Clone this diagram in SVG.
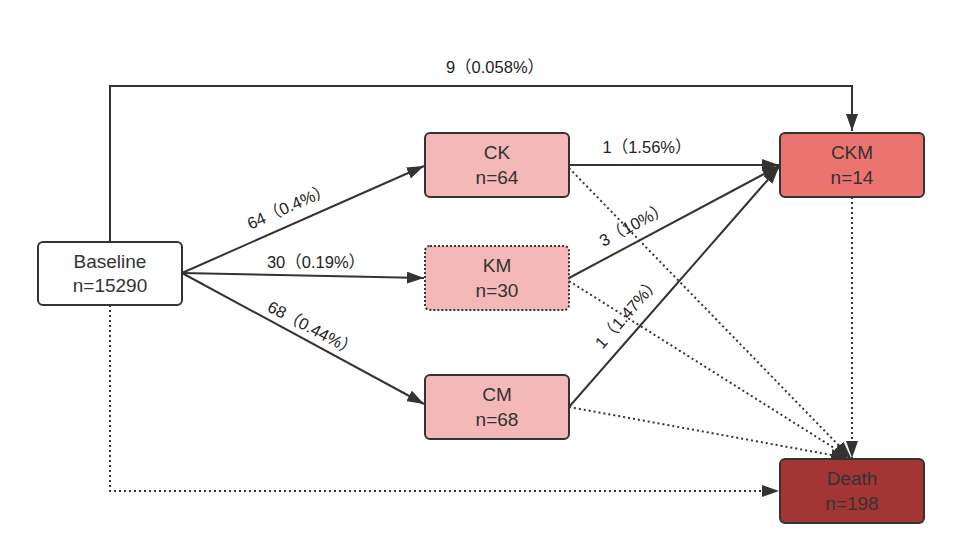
<svg xmlns="http://www.w3.org/2000/svg" width="961" height="560" viewBox="0 0 961 560">
<style>
.node rect{stroke:#333;stroke-width:2}
.nt{font-family:"Liberation Sans","Noto Sans CJK SC",sans-serif;font-size:19px;fill:#333;text-anchor:middle}
.lb{font-family:"Liberation Sans","Noto Sans CJK SC",sans-serif;font-size:16.5px;fill:#222;text-anchor:middle}
.c{fill:none;stroke:#333;stroke-width:2}
.d{fill:none;stroke:#333;stroke-width:2;stroke-dasharray:2,3}
</style>
<defs>
<marker id="arr" markerUnits="userSpaceOnUse" markerWidth="18" markerHeight="12" refX="17" refY="6" orient="auto"><path d="M0,0 L17,6 L0,12 Z" fill="#333"/></marker>
</defs>
<rect width="961" height="560" fill="#fff"/>
<g id="connectors">
<path class="c" d="M110,242 V86 H852 V131" marker-end="url(#arr)"/>
<path class="c" d="M182,273 L424,166" marker-end="url(#arr)"/>
<path class="c" d="M182,273 L424,278" marker-end="url(#arr)"/>
<path class="c" d="M182,273 L424,404" marker-end="url(#arr)"/>
<path class="c" d="M569,165 L779,165" marker-end="url(#arr)"/>
<path class="c" d="M569,278 L779,166" marker-end="url(#arr)"/>
<path class="c" d="M569,407 L779,167" marker-end="url(#arr)"/>
<path class="d" d="M569,168 L851,458" marker-end="url(#arr)"/>
<path class="d" d="M569,281 L850,458" marker-end="url(#arr)"/>
<path class="d" d="M569,407 L848,458" marker-end="url(#arr)"/>
<path class="d" d="M852,197 V458" marker-end="url(#arr)"/>
<path class="d" d="M110,305 V491 H779" marker-end="url(#arr)"/>
<text class="lb" x="495" y="73">9（0.058%）</text>
<text class="lb" transform="translate(289,207) rotate(-24)" x="0" y="5">64（0.4%）</text>
<text class="lb" x="316" y="268">30（0.19%）</text>
<text class="lb" transform="translate(312,329) rotate(28)" x="0" y="5">68（0.44%）</text>
<text class="lb" x="647" y="153">1（1.56%）</text>
<text class="lb" transform="translate(634,225) rotate(-28)" x="0" y="5">3（10%）</text>
<text class="lb" transform="translate(628,313) rotate(-49)" x="0" y="5">1（1.47%）</text>
</g>
<g id="baseline" class="node"><rect x="38" y="242" width="144" height="63" rx="5" fill="#fff"/><text class="nt" x="110" y="268">Baseline</text><text class="nt" x="110" y="292">n=15290</text></g>
<g id="ck" class="node"><rect x="425" y="133" width="144" height="64" rx="5" fill="#f4b8b8"/><text class="nt" x="497" y="159">CK</text><text class="nt" x="497" y="184">n=64</text></g>
<g id="km" class="node"><rect x="425" y="246" width="144" height="64" rx="5" fill="#f4b8b8" style="stroke-dasharray:2,2"/><text class="nt" x="497" y="272">KM</text><text class="nt" x="497" y="297">n=30</text></g>
<g id="cm" class="node"><rect x="425" y="375" width="144" height="64" rx="5" fill="#f4b8b8"/><text class="nt" x="497" y="401">CM</text><text class="nt" x="497" y="426">n=68</text></g>
<g id="ckm" class="node"><rect x="780" y="133" width="144" height="64" rx="5" fill="#ec7470"/><text class="nt" x="852" y="159">CKM</text><text class="nt" x="852" y="184">n=14</text></g>
<g id="death" class="node"><rect x="780" y="459" width="144" height="64" rx="5" fill="#a33535"/><text class="nt" x="852" y="485">Death</text><text class="nt" x="852" y="510">n=198</text></g>
</svg>
